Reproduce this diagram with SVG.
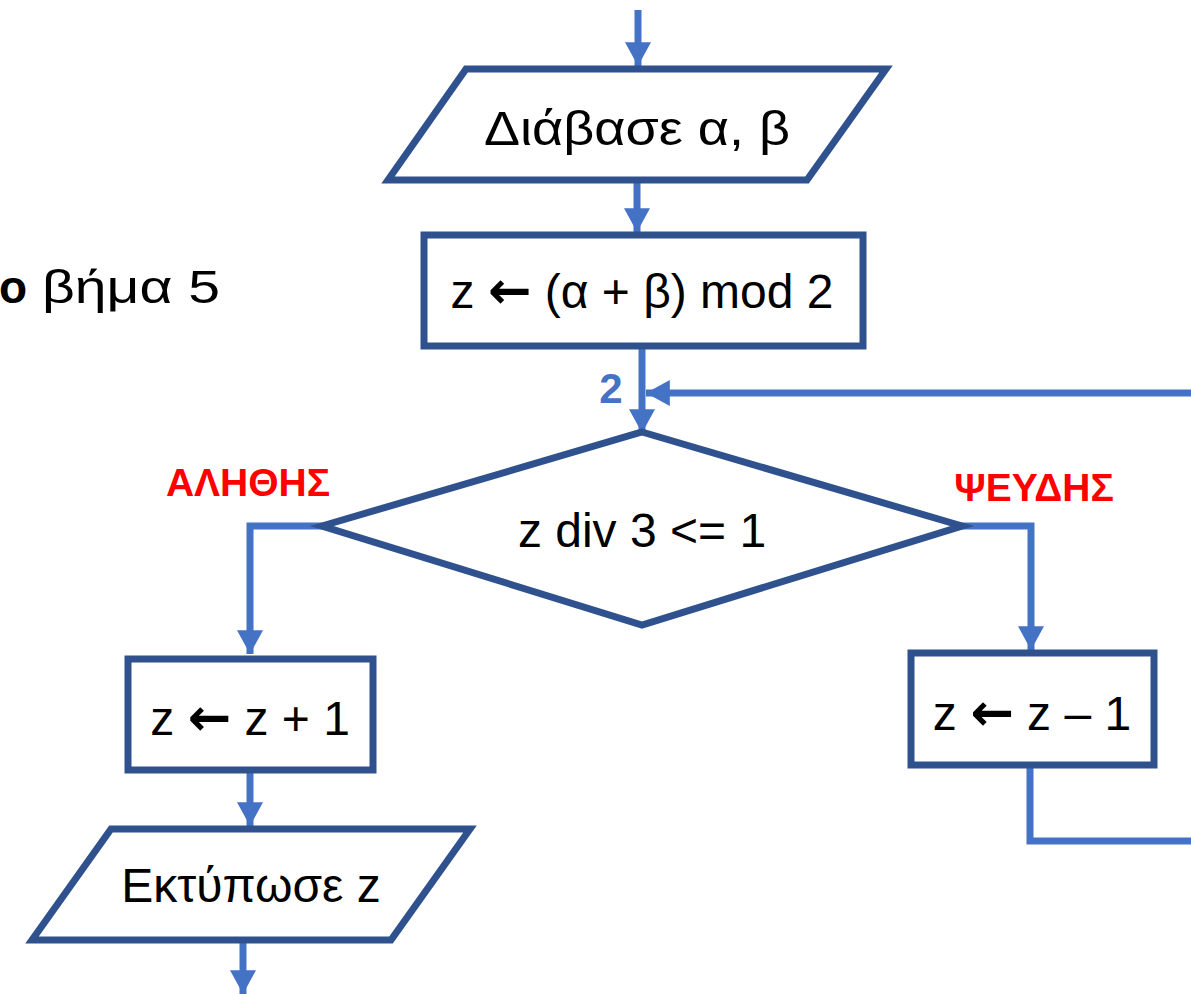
<svg xmlns="http://www.w3.org/2000/svg" width="1191" height="994" viewBox="0 0 1191 994">
<defs>
<style>
.shape{fill:#fff;stroke:#2F528F;stroke-width:7;stroke-linejoin:miter}
.conn{fill:none;stroke:#4472C4;stroke-width:7}
.t{font-family:"Liberation Sans",Arial,sans-serif;font-size:48px;fill:#000;text-anchor:middle}
.arr{font-family:"DejaVu Sans",sans-serif;font-weight:bold;font-size:52px}
.lab{font-family:"Liberation Sans",Arial,sans-serif;font-size:39px;font-weight:bold;fill:#FF0000;text-anchor:middle}
</style>
<marker id="ah" markerUnits="userSpaceOnUse" markerWidth="26" markerHeight="26" viewBox="0 0 24 24" refX="22" refY="12" orient="auto">
<path d="M0,0 L22,12 L0,24 Z" fill="#4472C4"/>
</marker>
</defs>
<rect width="1191" height="994" fill="#fff"/>
<text x="-1" y="303" font-family="'Liberation Sans',Arial,sans-serif" font-size="46" font-weight="bold">ο</text>
<text x="42" y="303" font-family="'Liberation Sans',Arial,sans-serif" font-size="46" textLength="178" lengthAdjust="spacingAndGlyphs">βήμα 5</text>
<g id="connectors">
<line class="conn" x1="638" y1="10" x2="638" y2="66" marker-end="url(#ah)"/>
<line class="conn" x1="637" y1="182" x2="637" y2="232" marker-end="url(#ah)"/>
<line class="conn" x1="642" y1="348" x2="642" y2="433" marker-end="url(#ah)"/>
<line class="conn" x1="1191" y1="393" x2="646" y2="393" marker-end="url(#ah)"/>
<polyline class="conn" points="326,526 250,526 250,654" marker-end="url(#ah)"/>
<polyline class="conn" points="958,526 1031,526 1031,650" marker-end="url(#ah)"/>
<polyline class="conn" points="1030,767 1030,841 1191,841"/>
<line class="conn" x1="250" y1="772" x2="250" y2="826" marker-end="url(#ah)"/>
<line class="conn" x1="243" y1="943" x2="243" y2="994" marker-end="url(#ah)"/>
<text x="611" y="403" font-family="'Liberation Sans',Arial,sans-serif" font-size="42" font-weight="bold" fill="#4472C4" text-anchor="middle">2</text>
</g>
<g id="read">
<polygon class="shape" points="466,69 886,69 807,180 388,180"/>
<text class="t" x="637" y="145" textLength="306" lengthAdjust="spacingAndGlyphs">Διάβασε α, β</text>
</g>
<g id="assign">
<rect class="shape" x="424" y="235" width="439" height="111"/>
<text class="t" x="642" y="308">z <tspan class="arr">←</tspan> (α + β) mod 2</text>
</g>
<g id="decision">
<polygon class="shape" points="642,432 962,526 642,625 322,526"/>
<text class="t" x="642" y="547">z div 3 &lt;= 1</text>
</g>
<g id="label-true">
<text class="lab" x="248" y="496">ΑΛΗΘΗΣ</text>
</g>
<g id="label-false">
<text class="lab" x="1034" y="501">ΨΕΥΔΗΣ</text>
</g>
<g id="inc">
<rect class="shape" x="128" y="659" width="245" height="111"/>
<text class="t" x="250" y="735">z <tspan class="arr">←</tspan> z + 1</text>
</g>
<g id="dec">
<rect class="shape" x="911" y="653" width="243" height="112"/>
<text class="t" x="1032" y="730">z <tspan class="arr">←</tspan> z – 1</text>
</g>
<g id="print">
<polygon class="shape" points="111,829 470,829 391,940 32,940"/>
<text class="t" x="251" y="902">Εκτύπωσε z</text>
</g>
</svg>
